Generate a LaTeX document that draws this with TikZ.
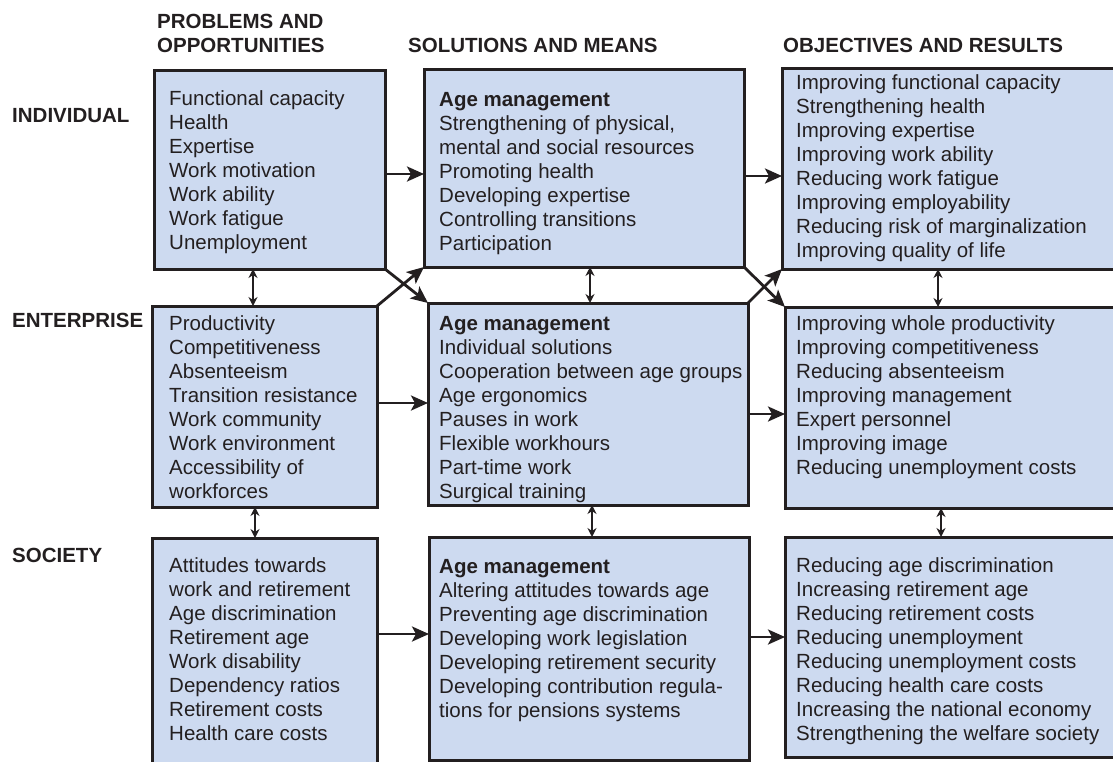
\documentclass[tikz,border=0pt]{standalone}
\usepackage{fontspec}
\setmainfont{Liberation Sans}
\usetikzlibrary{arrows.meta}
\definecolor{boxfill}{RGB}{205,218,240}
\definecolor{ink}{RGB}{35,31,32}
\newcommand{\lines}[1]{\begin{tabular}[t]{@{}l@{}}#1\end{tabular}}
\begin{document}
\begin{tikzpicture}[x=1pt,y=-1pt,
  font=\fontsize{20.5}{24}\selectfont, text=ink,
  box/.style={draw=ink, line width=3pt, fill=boxfill, anchor=north west, inner sep=0pt, outer sep=0pt},
  txt/.style={anchor=base west, inner sep=0pt},
  hdr/.style={anchor=base west, inner sep=0pt, font=\fontsize{20.5}{24}\selectfont\bfseries},
  arr/.style={draw=ink, line width=2.8pt, -{Stealth[length=17pt,width=15pt,inset=4pt]}},
  darr/.style={draw=ink, line width=1.8pt, {Stealth[length=9pt,width=9pt]}-{Stealth[length=9pt,width=9pt]}}]
\useasboundingbox (0,0) rectangle (1113,761);
\clip (0,0) rectangle (1113,761);
% boxes
\node[box, minimum width=231pt, minimum height=199pt] (b11) at (154,70) {};
\node[box, minimum width=320pt, minimum height=198pt] (b12) at (424,69) {};
\node[box, minimum width=343pt, minimum height=201pt] (b13) at (782,68) {};
\node[box, minimum width=225pt, minimum height=201pt] (b21) at (152,306) {};
\node[box, minimum width=320pt, minimum height=202pt] (b22) at (428,303) {};
\node[box, minimum width=340pt, minimum height=201pt] (b23) at (785,307) {};
\node[box, minimum width=225pt, minimum height=237pt] (b31) at (152,538) {};
\node[box, minimum width=320pt, minimum height=223pt] (b32) at (429,537) {};
\node[box, minimum width=340pt, minimum height=220pt] (b33) at (785,537) {};
% headers
\node[hdr] (h1) at (157,28) {\lines{PROBLEMS AND\\OPPORTUNITIES}};
\node[hdr] (h2) at (408,52) {SOLUTIONS AND MEANS};
\node[hdr] (h3) at (783,52) {OBJECTIVES AND RESULTS};
\node[hdr] (l1) at (12,122) {INDIVIDUAL};
\node[hdr] (l2) at (12,327) {ENTERPRISE};
\node[hdr] (l3) at (12,562) {SOCIETY};
% texts
\node[txt] (t11) at (169,105) {\lines{Functional capacity\\Health\\Expertise\\Work motivation\\Work ability\\Work fatigue\\Unemployment}};
\node[txt] (t12) at (439,106) {\lines{\textbf{Age management}\\Strengthening of physical,\\mental and social resources\\Promoting health\\Developing expertise\\Controlling transitions\\Participation}};
\node[txt] (t13) at (796,89) {\lines{Improving functional capacity\\Strengthening health\\Improving expertise\\Improving work ability\\Reducing work fatigue\\Improving employability\\Reducing risk of marginalization\\Improving quality of life}};
\node[txt] (t21) at (169,330) {\lines{Productivity\\Competitiveness\\Absenteeism\\Transition resistance\\Work community\\Work environment\\Accessibility of\\workforces}};
\node[txt] (t22) at (439,330) {\lines{\textbf{Age management}\\Individual solutions\\Cooperation between age groups\\Age ergonomics\\Pauses in work\\Flexible workhours\\Part-time work\\Surgical training}};
\node[txt] (t23) at (796,330) {\lines{Improving whole productivity\\Improving competitiveness\\Reducing absenteeism\\Improving management\\Expert personnel\\Improving image\\Reducing unemployment costs}};
\node[txt] (t31) at (169,572) {\lines{Attitudes towards\\work and retirement\\Age discrimination\\Retirement age\\Work disability\\Dependency ratios\\Retirement costs\\Health care costs}};
\node[txt] (t32) at (439,573) {\lines{\textbf{Age management}\\Altering attitudes towards age\\Preventing age discrimination\\Developing work legislation\\Developing retirement security\\Developing contribution regula-\\tions for pensions systems}};
\node[txt] (t33) at (796,572) {\lines{Reducing age discrimination\\Increasing retirement age\\Reducing retirement costs\\Reducing unemployment\\Reducing unemployment costs\\Reducing health care costs\\Increasing the national economy\\Strengthening the welfare society}};
% helper coordinates
\coordinate (ya) at (0,174);
\coordinate (yb) at (0,176);
\coordinate (yc) at (0,403);
\coordinate (yd) at (0,414);
\coordinate (ye) at (0,634);
\coordinate (yf) at (0,637);
\coordinate (xa) at (253,0);
\coordinate (xb) at (590,0);
\coordinate (xc) at (938,0);
\coordinate (xd) at (255,0);
\coordinate (xe) at (592,0);
\coordinate (xf) at (941,0);
% horizontal arrows
\draw[arr] (b11.east |- ya) -- (b12.west |- ya);
\draw[arr] (b12.east |- yb) -- (b13.west |- yb);
\draw[arr] (b21.east |- yc) -- (b22.west |- yc);
\draw[arr] (b22.east |- yd) -- (b23.west |- yd);
\draw[arr] (b31.east |- ye) -- (b32.west |- ye);
\draw[arr] (b32.east |- yf) -- (b33.west |- yf);
% crossing arrows
\draw[arr] (b11.south east) -- (b22.north west);
\draw[arr] (b21.north east) -- (b12.south west);
\draw[arr] (b12.south east) -- (b23.north west);
\draw[arr] (b22.north east) -- (b13.south west);
% vertical double arrows
\draw[darr] (b11.south -| xa) -- (b21.north -| xa);
\draw[darr] (b12.south -| xb) -- (b22.north -| xb);
\draw[darr] (b13.south -| xc) -- (b23.north -| xc);
\draw[darr] (b21.south -| xd) -- (b31.north -| xd);
\draw[darr] (b22.south -| xe) -- (b32.north -| xe);
\draw[darr] (b23.south -| xf) -- (b33.north -| xf);
\end{tikzpicture}
\end{document}
